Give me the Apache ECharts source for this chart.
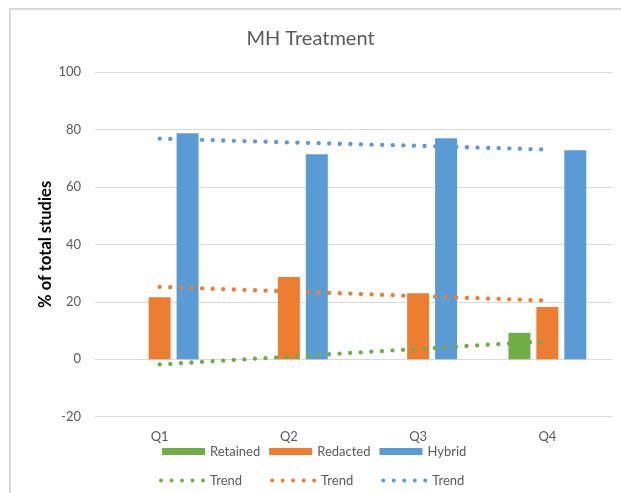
<!DOCTYPE html>
<html>
<head>
<meta charset="utf-8">
<script src="https://cdn.jsdelivr.net/npm/echarts@6/dist/echarts.min.js"></script>
<style>html,body{margin:0;padding:0;background:#fff;}#c{width:621px;height:493px;}</style>
</head>
<body>
<div id="c"></div>
<script>
const categories = ['Q1', 'Q2', 'Q3', 'Q4'];
const retained = [0, 0, 0, 9.2];
const redacted = [21.6, 28.6, 23.0, 18.2];
const hybrid = [78.7, 71.4, 76.9, 72.8];
const retainedTrend = [-1.8, 0.9, 3.6, 6.3];
const redactedTrend = [25.2, 23.6, 22.0, 20.4];
const hybridTrend = [76.8, 75.5, 74.3, 73.0];
const yTicks = { min: -20, max: 100, interval: 20 };

const green = '#70AD47', orange = '#ED7D31', blue = '#5B9BD5';
const font = 'Lato, "Open Sans", sans-serif';

function dotsPath() {
  let p = 'path://';
  [2, 12.5, 23, 33.5, 44].forEach(function (cx) {
    p += 'M' + (cx - 2) + ',2 a2,2 0 1,0 4,0 a2,2 0 1,0 -4,0 ';
  });
  return p;
}
const dotIcon = dotsPath();

const chart = echarts.init(document.getElementById('c'), null, { renderer: 'canvas' });

function trend(name, data, color) {
  return {
    name: name, type: 'line', data: data, symbol: 'none', z: 5,
    lineStyle: { color: color, width: 4.3, type: [0.1, 10.5], cap: 'round' },
    itemStyle: { color: color },
    silent: true, animation: false
  };
}
function bar(name, data, color) {
  return {
    name: name, type: 'bar', data: data, barWidth: 22, barGap: '27%',
    itemStyle: { color: color }, animation: false
  };
}

chart.setOption({
  animation: false,
  textStyle: { fontFamily: font },
  title: {
    text: 'MH Treatment', left: 'center', top: 24,
    textStyle: { fontFamily: font, fontSize: 20, fontWeight: 'normal', color: '#595959' }
  },
  graphic: [{
    type: 'rect', shape: { x: 10, y: 9, width: 800, height: 700 },
    style: { fill: 'none', stroke: '#d9d9d9', lineWidth: 2 }, silent: true
  }],
  grid: { left: 95, right: 9, top: 72, bottom: 76.3 },
  xAxis: {
    type: 'category', data: categories,
    axisLine: { onZero: true, lineStyle: { color: '#d9d9d9', width: 1 } },
    axisTick: { show: false },
    axisLabel: { color: '#595959', fontSize: 13, margin: 14, fontFamily: font },
    splitLine: { show: false }
  },
  yAxis: {
    type: 'value', min: yTicks.min, max: yTicks.max, interval: yTicks.interval,
    name: '% of total studies', nameLocation: 'middle', nameGap: 41,
    nameMoveOverlap: false,
    nameTextStyle: { fontFamily: font, fontSize: 16.5, fontWeight: 'bold', color: '#000' },
    axisLine: { show: false }, axisTick: { show: false },
    axisLabel: { color: '#595959', fontSize: 13, margin: 14, fontFamily: font },
    splitLine: { lineStyle: { color: '#d9d9d9', width: 1 } }
  },
  legend: [{
    data: ['Retained', 'Redacted', 'Hybrid'],
    left: 157, top: 440, itemWidth: 43, itemHeight: 7, itemGap: 9,
    icon: 'rect',
    textStyle: { color: '#595959', fontSize: 13, fontFamily: font }
  }, {
    data: [
      { name: 'Trend1', icon: dotIcon },
      { name: 'Trend2', icon: dotIcon },
      { name: 'Trend3', icon: dotIcon }
    ],
    left: 154, top: 469, itemWidth: 46, itemHeight: 4, itemGap: 28,
    formatter: function () { return 'Trend'; },
    textStyle: { color: '#595959', fontSize: 13, fontFamily: font }
  }],
  series: [
    bar('Retained', retained, green),
    bar('Redacted', redacted, orange),
    bar('Hybrid', hybrid, blue),
    trend('Trend1', retainedTrend, green),
    trend('Trend2', redactedTrend, orange),
    trend('Trend3', hybridTrend, blue)
  ]
});
</script>
</body>
</html>
